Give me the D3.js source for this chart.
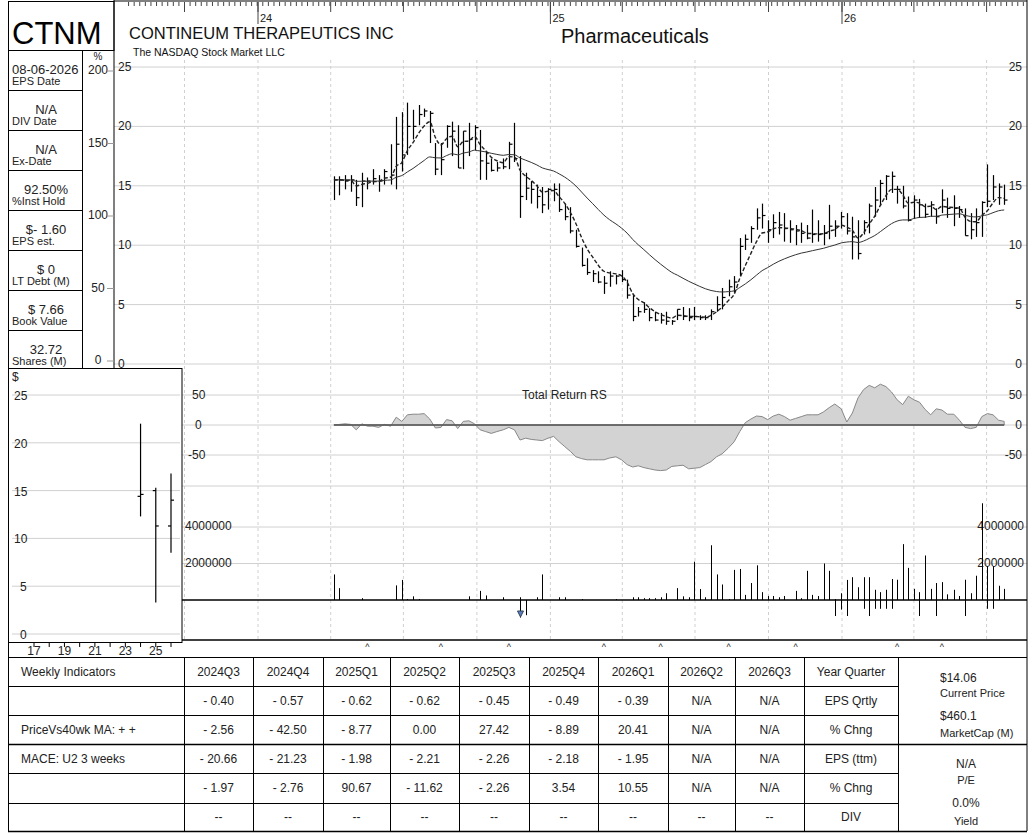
<!DOCTYPE html>
<html><head><meta charset="utf-8">
<script src="https://cdn.jsdelivr.net/npm/d3@7"></script>
<style>body{margin:0;background:#fff}svg{display:block;font-family:"Liberation Sans",Arial,sans-serif}</style>
</head><body><svg id="c" width="1032" height="840"></svg>
<script>
// ---------- data ----------
const ticker = "CTNM";
const company = "CONTINEUM THERAPEUTICS INC";
const exchange = "The NASDAQ Stock Market LLC";
const industry = "Pharmaceuticals";
const firstWeek = new Date(2024, 3, 5);
const highs = [15.8,15.8,15.9,15.9,15.5,16.1,15.7,16.4,15.9,16.4,18.5,20.8,21.2,22.0,21.4,21.8,21.5,21.3,18.6,18.6,20.1,20.4,20.1,19.6,20.3,20.1,19.7,17.9,17.3,17.0,17.3,18.7,20.3,17.5,16.1,15.4,15.1,14.9,14.8,15.2,15.2,13.5,13.2,11.3,9.8,8.9,7.9,7.8,7.4,7.8,7.5,7.9,7.1,5.8,4.8,5.2,4.7,4.4,4.3,4.4,3.7,4.6,4.8,4.7,4.8,4.1,4.1,4.6,5.7,6.4,7.1,7.4,10.6,10.9,11.6,13.1,13.5,12.1,12.6,12.8,12.7,12.1,11.7,11.9,11.7,13.0,12.1,11.7,13.4,12.1,12.8,12.7,12.4,12.1,12.1,13.5,14.9,15.5,15.9,16.2,15.0,15.0,14.1,14.2,13.9,13.5,13.7,13.1,14.7,14.0,14.2,13.3,13.1,12.7,13.1,13.7,16.8,15.9,15.2,15.1];
const lows = [13.8,14.2,14.7,14.5,13.3,13.2,14.7,15.1,14.5,15.1,15.1,14.7,16.2,17.6,18.9,20.1,20.8,18.6,15.9,15.9,18.2,17.5,16.5,16.4,17.5,18.0,15.5,15.5,16.2,16.2,16.4,16.4,17.0,12.3,13.8,13.5,13.1,12.7,13.0,13.7,12.8,12.1,11.0,9.8,8.2,7.5,6.9,6.8,5.9,6.5,6.7,6.9,5.5,3.6,4.0,4.3,3.6,3.6,3.4,3.3,3.3,3.7,3.7,3.6,3.7,3.7,3.7,3.7,4.4,4.6,5.7,6.0,7.4,9.6,10.2,11.3,11.4,10.2,10.6,10.9,10.3,10.2,10.0,10.2,10.5,10.2,10.3,10.0,10.5,10.7,11.4,10.9,8.8,8.8,10.9,11.0,12.4,13.3,13.8,14.4,13.5,13.1,12.0,12.2,12.3,12.3,12.4,11.8,12.7,12.3,11.6,12.3,10.8,10.5,10.7,10.7,13.2,13.8,13.4,13.4];
const closes = [15.5,15.5,15.4,15.5,14.0,15.4,15.4,15.6,15.4,16.2,15.9,18.5,17.6,20.0,20.0,21.0,21.3,21.1,16.4,17.2,20.0,19.6,16.5,19.6,18.9,19.9,17.1,16.9,16.3,16.5,16.6,18.5,17.3,14.1,14.8,14.7,14.1,13.4,14.7,14.7,13.0,12.4,11.2,9.9,8.3,7.7,7.6,6.9,6.8,7.4,7.4,7.1,5.8,4.0,4.4,4.6,3.9,3.7,3.7,3.6,3.6,4.6,4.0,3.9,4.0,3.9,3.9,4.4,5.0,5.6,6.5,6.9,9.9,10.5,11.4,12.3,12.5,11.3,11.9,11.7,11.4,11.3,11.2,11.0,10.6,10.9,10.9,11.0,11.6,11.6,12.4,11.2,10.7,9.3,11.9,13.3,13.8,15.2,15.8,15.8,14.7,13.3,12.1,13.8,13.4,12.6,13.4,12.4,13.8,13.1,13.1,13.0,10.8,11.3,11.9,13.6,13.7,14.9,14.9,13.8];
const volumesM = [1.4,0.65,0,0,0,0.1,0,0,0,0,0,0.8,1.1,0.05,0.2,0.05,0,0,0,0,0,0,0,0,0.2,0,0.5,0.25,0,0,0.15,0,0,0.15,0,0,0.15,1.4,0,0,0.15,0.15,0,0,0.05,0,0,0,0,0,0.05,0,0,0.15,0.15,0.1,0.1,0.1,0.15,0.37,0,0.65,0.2,0.15,2.1,0.6,0.15,3.0,1.4,0.85,0.05,1.65,1.7,0.28,0.93,1.9,0.43,0.22,0.22,0.15,0.22,0,0.5,0.1,1.6,0.28,0.22,2.0,1.6,0.05,0.37,1.1,1.25,0.7,1.25,1.25,0.56,0.43,0.56,1.15,1.11,3.06,1.76,0.61,0.43,2.44,0.61,0.93,0.98,0.31,0.56,0.22,1.11,0.37,1.33,5.3,1.85,1.85,0.78,0.61];
const lowerIdx = [34,35,90,91,92,95,96,97,98,99,100,105,108,113,117,118];
const lowerVal = [1.1,0.95,1.0,0.6,1.0,0.55,1.0,0.55,0.55,0.55,0.55,1.0,1.0,1.0,0.55,0.55];
const rs = [0,1,2,1,-8,2,-2,-2,-4,1,-2,13,6,17,18,18,19,10,-5,-4,9,7,-6,6,7,2,-8,-11,-14,-11,-8,-4,-8,-25,-22,-24,-25,-26,-22,-19,-28,-36,-44,-53,-56,-58,-58,-58,-58,-55,-53,-58,-66,-70,-68,-71,-73,-75,-76,-75,-69,-68,-67,-73,-72,-71,-66,-61,-53,-48,-38,-28,-11,4,10,15,14,9,15,18,14,8,11,14,17,17,17,22,29,35,27,5,20,45,59,66,62,68,64,55,42,34,48,42,38,26,17,27,25,18,18,8,-4,-6,-4,14,19,17,8,6];
const caretIdx = [7,20,32,49,59,71,83,101,109];
const priceTicks = [0,5,10,15,20,25];
const pctTicks = [0,50,100,150,200];
const rsTicks = [-50,0,50];
const volTicks = [2000000,4000000];
const infoValues = ["08-06-2026","N/A","N/A","92.50%","$- 1.60","$ 0","$ 7.66","32.72"];
const infoLabels = ["EPS Date","DIV Date","Ex-Date","%Inst Hold","EPS est.","LT Debt (M)","Book Value","Shares (M)"];
const yearLabels = [2017,2019,2021,2023,2025];
const yearBars = [{y:2024,o:14.4,h:22.0,l:12.3,c:14.6},{y:2025,o:15.0,h:15.3,l:3.3,c:11.3},{y:2026,o:11.3,h:16.8,l:8.5,c:14.0}];
const quarters = ["2024Q3","2024Q4","2025Q1","2025Q2","2025Q3","2025Q4","2026Q1","2026Q2","2026Q3"];
const epsQ = ["- 0.40","- 0.57","- 0.62","- 0.62","- 0.45","- 0.49","- 0.39","N/A","N/A"];
const epsQChg = ["- 2.56","- 42.50","- 8.77","0.00","27.42","- 8.89","20.41","N/A","N/A"];
const epsTtm = ["- 20.66","- 21.23","- 1.98","- 2.21","- 2.26","- 2.18","- 1.95","N/A","N/A"];
const epsTtmChg = ["- 1.97","- 2.76","90.67","- 11.62","- 2.26","3.54","10.55","N/A","N/A"];
const divs = ["--","--","--","--","--","--","--","--","--"];
const rowTitles = ["Year Quarter","EPS Qrtly","% Chng","EPS (ttm)","% Chng","DIV"];
const leftTitles = ["Weekly Indicators","","PriceVs40wk MA:  + +","MACE: U2  3 weeks","",""];

// ---------- build ----------
const svg = d3.select("#c");
const dates = closes.map((_, i) => d3.timeDay.offset(firstWeek, Math.round(i * 7.05)));
const x = d3.scaleTime().domain([new Date(2024,0,1), new Date(2026,0,1)]).range([258, 842]);
const y = d3.scaleLinear().domain([0,25]).range([364,67]);
const yPct = d3.scaleLinear().domain([0,200]).range([360,70]);
const yRs = d3.scaleLinear().domain([-50,50]).range([455,395]);
const yVol = d3.scaleLinear().domain([0,4000000]).range([600,527]);
const lowerScale = d3.scaleLinear().domain([0,1]).range([600,616]);
const F = "#222", G = "#d0d0d0";

// moving averages (exponential, derived from closes)
function ema(a, k){let r=[],p=a[0];a.forEach(v=>{p=p+k*(v-p);r.push(p)});return r;}
const maFast = ema(closes, 0.33), maSlow = ema(closes, 0.075);

// grid: quarters
const qs = d3.timeMonth.every(3).range(new Date(2023,9,1), new Date(2026,9,1));
svg.append("g").selectAll("line").data(qs).join("line")
  .attr("x1", d=>x(d)).attr("x2", d=>x(d)).attr("y1", 60).attr("y2", 640)
  .attr("stroke", G).attr("stroke-dasharray","3,3");
svg.append("g").selectAll("line").data(priceTicks).join("line")
  .attr("x1",114).attr("x2",1027).attr("y1",d=>y(d)).attr("y2",d=>y(d)).attr("stroke",G);
svg.append("g").selectAll("text").data(priceTicks).join("text")
  .attr("x",118).attr("y",d=>y(d)+4).attr("font-size",12).attr("fill",F).text(d=>d);
svg.append("g").selectAll("text").data(priceTicks).join("text")
  .attr("x",1022).attr("y",d=>y(d)+4).attr("text-anchor","end").attr("font-size",12).attr("fill",F).text(d=>d);

// top week ticks
const wk = d3.timeWeek.range(new Date(2023,6,20), new Date(2026,7,20));
svg.append("g").selectAll("line").data(wk).join("line")
  .attr("x1",d=>x(d)).attr("x2",d=>x(d)).attr("y1",2).attr("y2",6).attr("stroke","#444");
svg.append("g").selectAll("line").data(qs).join("line")
  .attr("x1",d=>x(d)).attr("x2",d=>x(d)).attr("y1",2).attr("y2",12).attr("stroke","#444");
[2024,2025,2026].forEach(yr=>{
  const xx = x(new Date(yr,0,1));
  svg.append("line").attr("x1",xx).attr("x2",xx).attr("y1",2).attr("y2",24).attr("stroke","#444");
  svg.append("text").attr("x",xx+2).attr("y",22).attr("font-size",11).attr("fill",F).text(String(yr).slice(2));
});

// titles
svg.append("text").attr("x",129).attr("y",39).attr("font-size",16.5).attr("fill","#111").text(company);
svg.append("text").attr("x",133).attr("y",56).attr("font-size",10.5).attr("fill","#111").text(exchange);
svg.append("text").attr("x",561).attr("y",43).attr("font-size",20).attr("fill","#111").text(industry);

// price bars
const bars = svg.append("g").attr("stroke","#000").attr("stroke-width",1.2);
closes.forEach((c,i)=>{
  const xx = Math.round(x(dates[i]))+0.5;
  bars.append("line").attr("x1",xx).attr("x2",xx).attr("y1",y(highs[i])).attr("y2",y(lows[i]));
  bars.append("line").attr("x1",xx).attr("x2",xx+3).attr("y1",y(c)).attr("y2",y(c));
});
const line = a => d3.line().x((d,i)=>x(dates[i])).y(d=>y(d)).curve(d3.curveMonotoneX)(a);
svg.append("path").attr("d",line(maSlow)).attr("fill","none").attr("stroke","#333").attr("stroke-width",1);
svg.append("path").attr("d",line(maFast)).attr("fill","none").attr("stroke","#222").attr("stroke-width",1.4).attr("stroke-dasharray","4,2");

// RS panel
svg.append("g").selectAll("line").data(rsTicks).join("line")
  .attr("x1",182).attr("x2",1027).attr("y1",d=>yRs(d)).attr("y2",d=>yRs(d)).attr("stroke",G);
svg.append("path").attr("fill","#d3d3d3").attr("stroke","#888")
  .attr("d", d3.area().x((d,i)=>x(dates[i])).y0(yRs(0)).y1(d=>yRs(d))(rs));
svg.append("line").attr("x1",x(dates[0])).attr("x2",x(dates[dates.length-1])).attr("y1",yRs(0)).attr("y2",yRs(0)).attr("stroke","#555").attr("stroke-width",1.3);
svg.append("g").selectAll("text").data(rsTicks).join("text")
  .attr("x",d=>d<0?188:(d==0?195:192)).attr("y",d=>yRs(d)+4).attr("font-size",12).attr("fill",F).text(d=>d);
svg.append("g").selectAll("text").data(rsTicks).join("text")
  .attr("x",1022).attr("text-anchor","end").attr("y",d=>yRs(d)+4).attr("font-size",12).attr("fill",F).text(d=>d);
svg.append("text").attr("x",522).attr("y",399).attr("font-size",12).attr("fill",F).text("Total Return RS");
svg.append("line").attr("x1",182).attr("x2",1027).attr("y1",486).attr("y2",486).attr("stroke",G);

// volume
svg.append("g").selectAll("line").data(volTicks).join("line")
  .attr("x1",182).attr("x2",1027).attr("y1",d=>yVol(d)).attr("y2",d=>yVol(d)).attr("stroke",G);
svg.append("g").selectAll("text").data(volTicks).join("text")
  .attr("x",185).attr("y",d=>yVol(d)+3).attr("font-size",12).attr("fill",F).text(d=>d);
svg.append("g").selectAll("text").data(volTicks).join("text")
  .attr("x",1024).attr("text-anchor","end").attr("y",d=>yVol(d)+3).attr("font-size",12).attr("fill",F).text(d=>d);
svg.append("g").selectAll("line").data(volumesM).join("line")
  .attr("x1",(d,i)=>Math.round(x(dates[i]))+0.5).attr("x2",(d,i)=>Math.round(x(dates[i]))+0.5)
  .attr("y1",600).attr("y2",d=>yVol(d*1e6)).attr("stroke","#000");
svg.append("g").selectAll("line").data(lowerIdx).join("line")
  .attr("x1",d=>Math.round(x(dates[d-1]))+0.5).attr("x2",d=>Math.round(x(dates[d-1]))+0.5)
  .attr("y1",600).attr("y2",(d,i)=>lowerScale(lowerVal[i])).attr("stroke","#000");
{const tx = Math.round(x(dates[33]))+0.5; svg.append("path").attr("d",`M${tx-3},${611}L${tx+3},${611}L${tx},${617}Z`).attr("fill","#5b7fc7").attr("stroke","#345");}
svg.append("line").attr("x1",182).attr("x2",1027).attr("y1",600).attr("y2",600).attr("stroke","#000").attr("stroke-width",1.3);
svg.append("line").attr("x1",182).attr("x2",1027).attr("y1",640).attr("y2",640).attr("stroke","#000").attr("stroke-width",1.3);
svg.append("g").selectAll("text").data(caretIdx).join("text")
  .attr("x",d=>x(dates[d-1])).attr("y",650).attr("text-anchor","middle").attr("font-size",9).attr("fill",F).text("^");

// frames
svg.append("line").attr("x1",114).attr("x2",114).attr("y1",0).attr("y2",368).attr("stroke","#000");
svg.append("line").attr("x1",1027).attr("x2",1027).attr("y1",0).attr("y2",831).attr("stroke","#000");
svg.append("line").attr("x1",114).attr("x2",1027).attr("y1",1).attr("y2",1).attr("stroke","#000");

// left info panel
svg.append("rect").attr("x",8.5).attr("y",1.5).attr("width",105.5).attr("height",49).attr("fill","none").attr("stroke","#000");
svg.append("text").attr("x",12).attr("y",44).attr("font-size",31).attr("fill","#000").text(ticker);
svg.append("line").attr("x1",8.5).attr("x2",8.5).attr("y1",1).attr("y2",831).attr("stroke","#000");
svg.append("line").attr("x1",82.5).attr("x2",82.5).attr("y1",50).attr("y2",368).attr("stroke","#000");
infoValues.forEach((v,i)=>{
  const top = 50 + i*40;
  svg.append("line").attr("x1",8).attr("x2",82).attr("y1",top+40.5).attr("y2",top+40.5).attr("stroke","#000");
  svg.append("text").attr("x",i==0?12:46).attr("text-anchor",i==0?"start":"middle").attr("y",top+24).attr("font-size",13).attr("fill",F).text(v);
  svg.append("text").attr("x",12).attr("y",top+35).attr("font-size",11).attr("fill",F).text(infoLabels[i]);
});
svg.append("text").attr("x",98).attr("y",60).attr("text-anchor","middle").attr("font-size",10).attr("fill",F).text("%");
svg.append("g").selectAll("text").data(pctTicks).join("text")
  .attr("x",98).attr("text-anchor","middle").attr("y",d=>yPct(d)+4).attr("font-size",12).attr("fill",F).text(d=>d);
svg.append("g").selectAll("line").data(pctTicks).join("line")
  .attr("x1",107).attr("x2",114).attr("y1",d=>yPct(d)+1).attr("y2",d=>yPct(d)+1).attr("stroke","#999");

// small yearly chart
const sx = d3.scaleLinear().domain([2017,2026]).range([34,171]);
const sy = d3.scaleLinear().domain([0,25]).range([634,395]);
svg.append("rect").attr("x",8.5).attr("y",368.5).attr("width",173.5).attr("height",274).attr("fill","#fff").attr("stroke","#000");
svg.append("g").selectAll("line").data(priceTicks).join("line")
  .attr("x1",12).attr("x2",180).attr("y1",d=>sy(d)).attr("y2",d=>sy(d)).attr("stroke",G);
svg.append("g").selectAll("text").data(priceTicks).join("text")
  .attr("x",d=>d<10?20:14).attr("y",d=>sy(d)+5).attr("font-size",12).attr("fill",F).text(d=>d);
svg.append("text").attr("x",12).attr("y",381).attr("font-size",12).attr("fill",F).text("$");
svg.append("line").attr("x1",8).attr("x2",182).attr("y1",642.5).attr("y2",642.5).attr("stroke","#000");
svg.append("g").selectAll("line").data(d3.range(2017,2027)).join("line")
  .attr("x1",d=>sx(d)).attr("x2",d=>sx(d)).attr("y1",643).attr("y2",647).attr("stroke","#000");
svg.append("g").selectAll("text").data(yearLabels).join("text")
  .attr("x",d=>sx(d)).attr("y",655).attr("text-anchor","middle").attr("font-size",12).attr("fill",F).text(d=>String(d).slice(2));
const yb = svg.append("g").attr("stroke","#000").attr("stroke-width",1.2);
yearBars.forEach(b=>{
  const xx = sx(b.y);
  yb.append("line").attr("x1",xx).attr("x2",xx).attr("y1",sy(b.h)).attr("y2",sy(b.l));
  yb.append("line").attr("x1",xx-3).attr("x2",xx).attr("y1",sy(b.o)).attr("y2",sy(b.o));
  yb.append("line").attr("x1",xx).attr("x2",xx+3).attr("y1",sy(b.c)).attr("y2",sy(b.c));
});

// table
const colX = [184,253,323,390,459,529,598,668,735,804,898];
const rowY = [657,686,715,744,773,803,831];
const T = svg.append("g").attr("stroke","#000");
rowY.forEach((r,i)=>T.append("line").attr("x1",8).attr("x2",i==0||i==3||i==6?1027:898).attr("y1",r+0.5).attr("y2",r+0.5).attr("stroke-width",i==3||i==6?1.6:1));
colX.forEach(c=>T.append("line").attr("x1",c+0.5).attr("x2",c+0.5).attr("y1",657).attr("y2",831));
const rows = [quarters, epsQ, epsQChg, epsTtm, epsTtmChg, divs];
rows.forEach((r,ri)=>{
  const cy = (rowY[ri]+rowY[ri+1])/2 + 4;
  r.forEach((v,ci)=>svg.append("text").attr("x",(colX[ci]+colX[ci+1])/2).attr("y",cy).attr("text-anchor","middle").attr("font-size",12).attr("fill",F).text(v));
  svg.append("text").attr("x",(colX[9]+colX[10])/2).attr("y",cy).attr("text-anchor","middle").attr("font-size",12).attr("fill",F).text(rowTitles[ri]);
  if (leftTitles[ri]) svg.append("text").attr("x",21).attr("y",cy).attr("font-size",12).attr("fill",F).text(leftTitles[ri]);
});
const R = [["$14.06",940,682,12,"start"],["Current Price",940,697,11,"start"],["$460.1",940,720,12,"start"],["MarketCap (M)",940,737,11,"start"],
  ["N/A",966,768,12,"middle"],["P/E",966,784,11,"middle"],["0.0%",966,807,12,"middle"],["Yield",966,825,11,"middle"]];
R.forEach(t=>svg.append("text").attr("x",t[1]).attr("y",t[2]).attr("font-size",t[3]).attr("text-anchor",t[4]).attr("fill",F).text(t[0]));
</script></body></html>
